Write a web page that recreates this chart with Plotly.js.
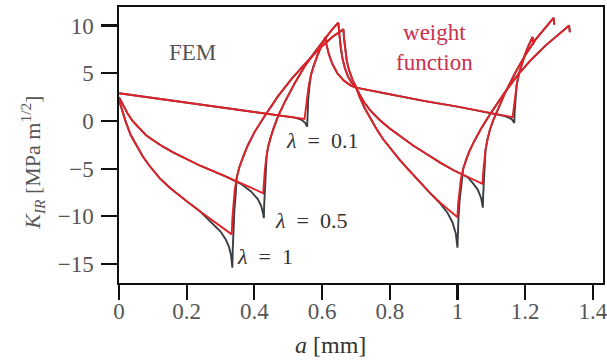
<!DOCTYPE html>
<html>
<head>
<meta charset="utf-8">
<script src="https://cdn.plot.ly/plotly-3.0.1.min.js"></script>
<style>html,body{margin:0;padding:0;background:#fff;}#chart{width:607px;height:363px;}</style>
</head>
<body>
<div id="chart"></div>
<script>
// crack length a [mm] and K_IR [MPa m^1/2]
// lambda = 1
const a_wf_1 = [0,0.01,0.02,0.035,0.05,0.07,0.09,0.12,0.15,0.18,0.21,0.24,0.27,0.30,0.332,
  0.333,0.335,0.338,0.342,0.348,0.356,0.366,0.38,0.40,0.43,0.47,0.51,0.55,0.59,0.63,0.663,
  0.665,0.668,0.673,0.68,0.69,0.70,
  0.71,0.725,0.74,0.76,0.78,0.80,0.83,0.86,0.89,0.92,0.95,0.975,1.0,
  1.002,1.005,1.01,1.017,1.025,1.035,1.05,1.07,1.10,1.14,1.18,1.22,1.26,1.30,1.33,1.332];
const K_wf_1 = [2.2,1.0,-0.1,-1.5,-2.5,-3.7,-4.7,-6.0,-7.0,-7.9,-8.7,-9.5,-10.3,-11.1,-11.9,
  -11.9,-10.2,-8.6,-7.2,-5.9,-4.8,-3.8,-2.6,-1.2,0.5,2.6,4.4,6.0,7.5,8.8,9.6,
  8.6,7.5,6.3,5.3,4.3,3.6,
  2.6,1.4,0.4,-0.8,-1.9,-2.8,-4.1,-5.3,-6.5,-7.6,-8.6,-9.4,-10.1,
  -8.7,-7.4,-6.1,-5.0,-4.1,-3.2,-2.1,-0.8,0.9,3.0,4.9,6.5,7.9,9.1,10.0,9.3];
const a_fem_1 = [0,0.01,0.02,0.035,0.05,0.07,0.09,0.12,0.15,0.18,0.21,0.24,0.27,0.30,0.315,0.325,0.331,0.335,
  0.336,0.338,0.341,0.345,0.348,0.356,0.366,0.38,0.40,0.43,0.47,0.51,0.55,0.59,0.63,0.663,
  0.665,0.668,0.673,0.68,0.69,0.70,
  0.71,0.725,0.74,0.76,0.78,0.80,0.83,0.86,0.89,0.92,0.95,0.97,0.985,0.995,1.0,
  1.001,1.003,1.006,1.01,1.017,1.025,1.035,1.05,1.07,1.10,1.14,1.18,1.22,1.26,1.30,1.33,1.332];
const K_fem_1 = [2.2,1.0,-0.1,-1.5,-2.5,-3.7,-4.7,-6.0,-7.0,-7.9,-8.7,-9.5,-10.5,-11.6,-12.4,-13.2,-14.1,-15.4,
  -13.5,-11.2,-9.3,-7.6,-5.9,-4.8,-3.8,-2.6,-1.2,0.5,2.6,4.4,6.0,7.5,8.8,9.6,
  8.6,7.5,6.3,5.3,4.3,3.6,
  2.6,1.4,0.4,-0.8,-1.9,-2.8,-4.1,-5.3,-6.5,-7.6,-8.7,-9.6,-10.6,-11.8,-13.3,
  -12.0,-10.2,-8.5,-7.1,-5.0,-4.1,-3.2,-2.1,-0.8,0.9,3.0,4.9,6.5,7.9,9.1,10.0,9.3];
// lambda = 0.5
const a_wf_05 = [0,0.01,0.025,0.04,0.06,0.08,0.1,0.13,0.16,0.2,0.24,0.28,0.32,0.36,0.39,0.426,
  0.428,0.431,0.435,0.44,0.447,0.456,0.47,0.49,0.52,0.55,0.58,0.61,0.63,0.648,
  0.651,0.655,0.66,0.667,0.676,0.687,0.70,
  0.71,0.725,0.745,0.77,0.80,0.83,0.87,0.91,0.95,0.99,1.03,1.074,
  1.076,1.079,1.083,1.089,1.096,1.105,1.12,1.14,1.17,1.20,1.23,1.26,1.284,1.286];
const K_wf_05 = [2.5,1.8,0.8,0.0,-0.8,-1.5,-2.0,-2.7,-3.3,-4.0,-4.7,-5.3,-5.9,-6.5,-7.0,-7.6,
  -6.4,-5.1,-3.9,-2.8,-1.8,-0.8,0.5,2.0,4.0,5.8,7.3,8.7,9.6,10.3,
  9.0,7.7,6.6,5.6,4.7,4.0,3.5,
  2.8,1.9,1.0,0.1,-0.8,-1.6,-2.6,-3.5,-4.4,-5.2,-5.9,-6.6,
  -5.4,-4.2,-3.0,-1.9,-0.9,0.0,1.3,2.9,5.0,6.9,8.5,9.8,10.8,10.1];
const a_fem_05 = [0,0.01,0.025,0.04,0.06,0.08,0.1,0.13,0.16,0.2,0.24,0.28,0.32,0.36,0.39,0.41,0.42,0.425,0.428,
  0.429,0.431,0.433,0.436,0.44,0.447,0.456,0.47,0.49,0.52,0.55,0.58,0.61,0.63,0.648,
  0.651,0.655,0.66,0.667,0.676,0.687,0.70,
  0.71,0.725,0.745,0.77,0.80,0.83,0.87,0.91,0.95,0.99,1.03,1.045,1.06,1.07,1.075,
  1.076,1.078,1.08,1.083,1.089,1.096,1.105,1.12,1.14,1.17,1.20,1.23,1.26,1.284,1.286];
const K_fem_05 = [2.5,1.8,0.8,0.0,-0.8,-1.5,-2.0,-2.7,-3.3,-4.0,-4.7,-5.3,-5.9,-6.6,-7.4,-8.2,-8.9,-9.6,-10.2,
  -8.8,-7.2,-5.9,-3.8,-2.8,-1.8,-0.8,0.5,2.0,4.0,5.8,7.3,8.7,9.6,10.3,
  9.0,7.7,6.6,5.6,4.7,4.0,3.5,
  2.8,1.9,1.0,0.1,-0.8,-1.6,-2.6,-3.5,-4.4,-5.2,-5.9,-6.5,-7.2,-8.1,-9.1,
  -7.8,-6.2,-4.9,-3.0,-1.9,-0.9,0.0,1.3,2.9,5.0,6.9,8.5,9.8,10.8,10.1];
// lambda = 0.1
const a_wf_01 = [0,0.1,0.2,0.3,0.4,0.5,0.548,
  0.552,0.555,0.56,0.567,0.575,0.585,0.597,0.61,
  0.613,0.62,0.63,0.645,0.665,0.685,0.70,
  0.8,0.9,1.0,1.1,1.163,
  1.167,1.17,1.175,1.182,1.19,1.2,1.21,1.222,1.224];
const K_wf_01 = [2.9,2.4,1.9,1.4,0.9,0.45,0.2,
  1.3,2.4,3.6,4.8,5.8,6.8,7.8,8.8,
  8.0,7.0,6.0,5.0,4.2,3.7,3.5,
  2.8,2.1,1.5,0.8,0.4,
  1.5,2.6,3.8,5.0,6.0,7.0,7.9,8.8,8.0];
const a_fem_01 = [0,0.1,0.2,0.3,0.4,0.5,0.52,0.54,0.55,0.556,
  0.557,0.559,0.562,0.567,0.575,0.585,0.597,0.61,
  0.613,0.62,0.63,0.645,0.665,0.685,0.70,
  0.8,0.9,1.0,1.1,1.14,1.16,1.168,
  1.169,1.171,1.175,1.182,1.19,1.2,1.21,1.222,1.224];
const K_fem_01 = [2.9,2.4,1.9,1.4,0.9,0.45,0.35,0.1,-0.2,-0.6,
  0.8,2.2,3.4,4.8,5.8,6.8,7.8,8.8,
  8.0,7.0,6.0,5.0,4.2,3.7,3.5,
  2.8,2.1,1.5,0.8,0.5,0.2,-0.2,
  1.0,2.2,3.8,5.0,6.0,7.0,7.9,8.8,8.0];

const xTicks = [0,0.2,0.4,0.6,0.8,1,1.2,1.4];
const xTickText = ['0','0.2','0.4','0.6','0.8','1','1.2','1.4'];
const yTicks = [-15,-10,-5,0,5,10];
const yTickText = ['\u221215','\u221210','\u22125','0','5','10'];

const femColor = '#3a3e42';
const wfColor = '#e12229';
const serif = 'Liberation Serif, DejaVu Serif, serif';
const sp = '\u2002';

function tr(x, y, c) {
  return {x: x, y: y, type: 'scatter', mode: 'lines', line: {color: c, width: 1.9}, hoverinfo: 'skip', showlegend: false};
}
const data = [
  tr(a_fem_1, K_fem_1, femColor), tr(a_fem_05, K_fem_05, femColor), tr(a_fem_01, K_fem_01, femColor),
  tr(a_wf_1, K_wf_1, wfColor), tr(a_wf_05, K_wf_05, wfColor), tr(a_wf_01, K_wf_01, wfColor)
];

const layout = {
  width: 607, height: 363,
  margin: {l: 119, r: 4, t: 7, b: 80},
  paper_bgcolor: '#fff', plot_bgcolor: '#fff',
  font: {family: serif, size: 20, color: '#444'},
  xaxis: {
    range: [0, 1.43], showgrid: false, zeroline: false,
    showline: true, linecolor: '#111', linewidth: 1.6, mirror: true,
    ticks: 'outside', ticklen: 15, tickwidth: 2.2, tickcolor: '#111', ticklabelstandoff: -8,
    ticklabeloverflow: 'allow',
    tickvals: xTicks, ticktext: xTickText, tickfont: {family: serif, size: 23, color: '#555'}
  },
  yaxis: {
    range: [-17.0, 11.95], showgrid: false, zeroline: false,
    showline: true, linecolor: '#111', linewidth: 1.6, mirror: true,
    ticks: 'outside', ticklen: 16, tickwidth: 2.2, tickcolor: '#111', ticklabelstandoff: 3,
    ticklabeloverflow: 'allow',
    tickvals: yTicks, ticktext: yTickText, tickfont: {family: serif, size: 23, color: '#555'}
  },
  annotations: [
    {x: 0.436, y: -0.225, xref: 'paper', yref: 'paper', xanchor: 'center', yanchor: 'middle', text: '<i>a</i> [mm]', showarrow: false, font: {family: serif, size: 24, color: '#333'}},
    {x: -0.178, y: 0.435, xref: 'paper', yref: 'paper', xanchor: 'center', yanchor: 'middle', text: '<i>K</i><sub><i>IR</i></sub> [MPa m<sup>1/2</sup>]', textangle: -90, showarrow: false, font: {family: serif, size: 22, color: '#555'}},
    {x: 0.216, y: 7.2, xref: 'x', yref: 'y', text: 'FEM', showarrow: false, font: {family: serif, size: 23, color: '#555'}},
    {x: 0.933, y: 7.75, xref: 'x', yref: 'y', text: 'weight<br>function', showarrow: false, font: {family: serif, size: 23, color: '#cc2f4a'}},
    {x: 0.6, y: -2.1, xref: 'x', yref: 'y', text: '<i>\u03bb</i>' + sp + '=' + sp + '0.1', showarrow: false, font: {family: serif, size: 22, color: '#333'}},
    {x: 0.567, y: -10.4, xref: 'x', yref: 'y', text: '<i>\u03bb</i>' + sp + '=' + sp + '0.5', showarrow: false, font: {family: serif, size: 22, color: '#333'}},
    {x: 0.431, y: -14.2, xref: 'x', yref: 'y', text: '<i>\u03bb</i>' + sp + '=' + sp + '1', showarrow: false, font: {family: serif, size: 22, color: '#333'}}
  ]
};
Plotly.newPlot('chart', data, layout, {displayModeBar: false, staticPlot: true});
</script>
</body>
</html>
